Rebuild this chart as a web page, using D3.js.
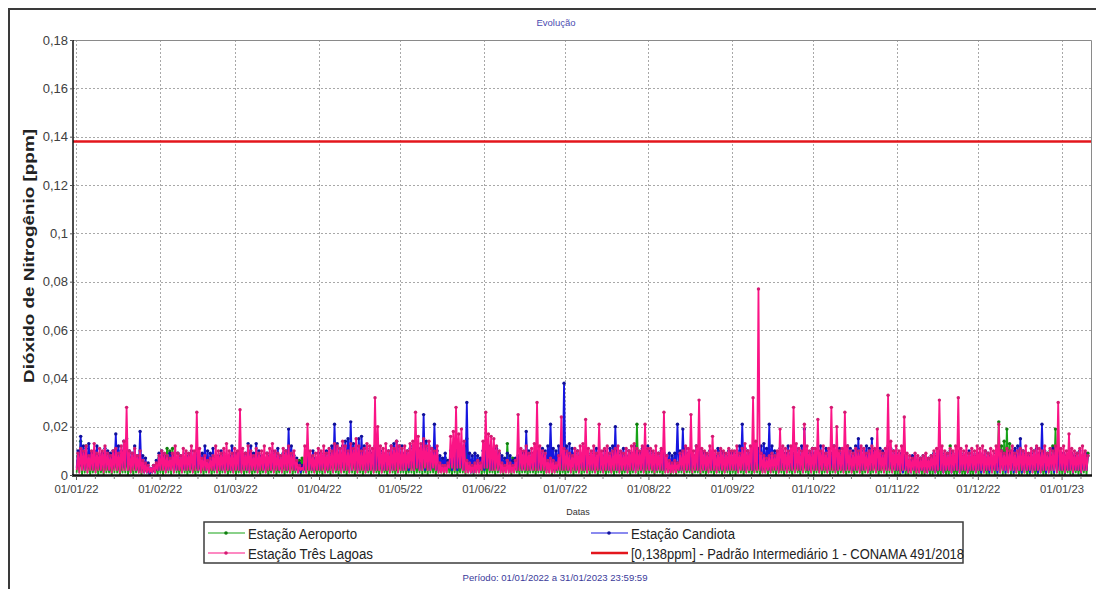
<!DOCTYPE html>
<html>
<head>
<meta charset="utf-8">
<script src="https://cdn.jsdelivr.net/npm/d3@7"></script>
<style>
  body { margin: 0; background: #fff; }
  text { font-family: "Liberation Sans", Arial, sans-serif; }
</style>
</head>
<body>
<svg id="chart" width="1096" height="589"></svg>
<script>
// daily low / high readings, in thousandths of ppm, 01/01/2022 .. 10/01/2023
const pinkHi = [
  9,11,10,12,8,10,13,9,11,10,12,9,8,10,11,9,12,14,28,10,9,11,8,10,6,5,4,3,4,5,8,
  10,9,8,7,9,12,9,8,11,10,9,12,10,26,11,7,8,6,7,8,12,10,9,11,13,10,9,11,
  10,27,11,9,12,10,8,11,9,10,12,9,11,13,10,9,8,11,10,12,9,10,6,4,3,12,21,10,8,9,11,
  10,12,9,11,10,13,12,11,14,12,10,13,11,15,12,10,11,13,12,11,32,20,12,11,13,10,12,11,14,12,
  11,12,10,13,14,26,16,13,15,12,14,11,10,12,5,4,4,5,16,18,28,17,19,14,6,5,4,5,6,5,14,
  26,17,16,15,12,10,5,4,6,5,4,6,25,11,10,12,9,11,13,30,12,10,9,6,7,6,5,8,24,11,
  10,9,8,11,10,12,13,23,11,10,12,9,21,10,11,12,9,10,11,12,10,9,11,10,12,13,11,10,12,21,11,
  11,10,12,9,11,26,8,6,5,6,5,9,10,12,11,25,10,12,31,11,10,9,12,16,10,9,11,10,9,11,10,
  10,12,9,11,13,10,12,32,14,77,9,8,7,8,9,8,10,19,12,11,10,12,28,13,11,10,21,12,10,11,
  11,23,10,12,9,11,28,12,20,10,11,26,12,10,9,11,10,12,11,9,10,12,11,19,10,9,11,33,14,10,12,
  10,12,24,9,8,7,9,8,7,8,9,7,8,10,11,31,12,10,9,11,10,12,32,11,10,12,9,11,10,12,
  11,12,10,9,11,10,12,21,10,9,11,10,12,9,10,11,10,12,9,11,10,12,11,10,12,9,11,10,12,30,11,
  12,10,17,11,10,9,11,12,10,8
];
const pinkLo = [
  2,1,2,2,1,2,2,1,2,2,1,2,2,1,2,2,1,2,2,2,1,2,2,1,1,1,1,1,1,1,2,
  2,2,1,2,2,1,2,2,1,2,2,2,1,2,2,1,2,2,1,2,2,1,2,2,1,2,2,1,
  2,2,1,2,2,1,2,2,1,2,2,1,2,2,1,2,2,1,2,2,1,2,2,1,2,2,1,2,2,1,2,
  2,2,1,2,2,1,2,2,1,2,2,1,2,2,1,2,2,1,2,2,1,2,2,1,2,2,1,2,2,1,
  2,2,2,3,2,2,3,2,2,3,2,2,3,2,1,1,1,1,3,3,2,3,3,2,1,1,1,1,1,1,2,
  3,3,2,2,2,2,1,1,1,1,1,1,2,2,2,2,2,2,2,2,2,2,2,1,1,1,1,2,2,2,
  2,2,1,2,2,1,2,2,1,2,2,1,2,2,1,2,2,1,2,2,1,2,2,1,2,2,1,2,2,1,2,
  2,2,1,2,2,2,1,1,1,1,1,2,2,1,2,2,1,2,2,1,2,2,1,2,2,1,2,2,1,2,2,
  2,2,1,2,2,1,2,2,1,2,2,1,1,2,1,2,2,1,2,2,1,2,2,1,2,2,1,2,2,1,
  2,2,1,2,2,1,2,2,1,2,2,1,2,2,1,2,2,1,2,2,1,2,2,1,2,2,1,2,2,1,2,
  2,1,2,2,1,1,2,1,1,2,1,1,2,2,1,2,2,1,2,2,1,2,2,1,2,2,1,2,2,1,
  2,2,1,2,2,1,2,2,1,2,2,1,2,2,1,2,2,1,2,2,1,2,2,1,2,2,1,2,2,1,2,
  2,1,2,2,1,2,2,1,2,2
];
const blueHi = [
  10,16,12,11,13,9,10,12,8,9,11,10,9,10,17,12,10,14,15,10,9,12,8,18,8,7,5,3,4,6,9,
  10,8,7,9,8,7,9,8,6,9,8,10,7,9,8,9,12,10,9,11,7,8,10,9,7,8,12,9,
  9,10,8,9,13,12,9,13,10,8,7,9,8,10,9,11,8,9,10,19,12,8,7,5,4,6,9,8,10,7,9,
  9,8,10,9,12,21,13,11,12,14,15,22,13,12,15,16,12,11,10,9,12,11,10,9,8,10,12,13,14,12,
  12,9,10,11,12,13,11,10,25,14,12,11,21,10,8,7,9,6,10,12,11,10,9,12,30,9,8,9,8,7,10,
  10,12,9,8,11,9,8,7,9,8,6,7,8,10,9,18,10,9,8,10,9,11,10,12,21,11,10,12,11,38,
  12,13,11,9,10,8,9,10,8,9,10,11,9,8,10,9,11,12,20,10,9,11,8,10,9,12,10,9,11,10,12,
  10,9,8,9,10,9,8,9,8,9,21,10,19,11,9,10,8,12,11,10,9,8,10,9,8,11,10,9,8,10,9,
  9,10,12,21,11,10,9,12,10,11,12,13,11,21,12,10,9,11,10,9,12,10,9,11,10,12,19,10,9,11,
  9,10,12,9,11,10,9,12,10,11,9,10,12,11,10,12,15,11,10,12,11,15,10,9,11,10,9,12,11,10,9,
  8,9,8,7,6,8,7,6,7,8,6,7,8,9,8,10,9,8,9,10,9,8,10,9,8,9,10,9,8,9,
  9,8,10,9,8,7,9,8,10,9,8,9,10,11,12,15,10,9,8,9,10,11,9,21,10,9,8,11,10,9,8,
  9,8,10,9,8,9,10,8,9,8
];
const blueLo = [
  3,4,3,2,3,3,2,3,3,2,3,3,2,3,3,3,2,3,3,2,3,3,2,2,2,1,1,0,1,1,2,
  2,3,2,2,3,2,2,3,2,2,3,2,2,3,2,2,3,2,2,3,2,2,3,2,2,3,2,2,
  3,2,2,3,2,2,3,2,2,3,2,2,3,2,2,3,2,2,3,2,2,3,2,1,1,2,2,3,2,2,3,
  2,3,2,2,3,2,2,3,2,2,3,2,2,3,2,2,3,2,2,3,2,2,3,2,2,3,2,2,3,2,
  3,2,3,2,3,2,3,2,3,2,3,2,3,2,2,2,3,2,3,2,3,2,3,2,2,2,1,1,2,2,3,
  2,3,2,2,3,2,2,3,2,2,3,2,2,3,2,2,3,2,2,3,2,2,3,2,2,3,2,2,3,2,
  3,2,2,3,2,2,3,2,2,3,2,2,3,2,2,3,2,2,3,2,2,3,2,2,3,2,2,3,2,2,3,
  2,3,2,2,3,2,2,3,2,2,3,2,2,3,2,2,3,2,2,3,2,2,3,2,2,3,2,2,3,2,2,
  3,2,2,3,2,2,3,2,2,3,2,2,3,2,2,3,2,2,3,2,2,3,2,2,3,2,2,3,2,2,
  2,3,2,2,3,2,2,3,2,2,3,2,2,3,2,2,3,2,2,3,2,2,3,2,2,3,2,2,3,2,2,
  2,2,1,2,2,1,2,2,1,2,2,1,2,2,1,2,2,1,2,2,1,2,2,1,2,2,1,2,2,1,
  2,1,2,2,1,2,2,1,2,2,1,2,2,1,2,2,1,2,2,1,2,2,1,2,2,1,2,2,1,2,2,
  2,1,2,2,1,2,2,1,2,2
];
const greenHi = [
  8,14,9,12,7,6,5,7,6,5,6,5,4,7,9,6,5,8,10,6,5,7,5,6,5,4,3,2,3,4,7,
  6,7,11,10,11,9,6,5,6,7,5,6,5,7,6,5,6,7,5,6,7,5,6,8,6,5,7,6,
  6,5,7,6,8,6,5,7,6,5,7,6,5,6,7,5,6,7,6,5,7,6,5,6,7,5,6,7,6,5,6,
  6,7,5,6,8,7,6,9,8,6,7,12,8,7,9,6,7,8,6,7,6,5,7,6,5,6,7,6,5,6,
  6,7,5,6,8,7,6,11,8,6,11,7,6,7,5,6,7,6,5,7,6,5,7,6,15,6,5,7,6,6,6,
  6,7,5,6,8,7,6,5,13,6,7,6,5,7,6,5,6,7,5,6,7,5,6,7,11,6,5,7,6,5,
  6,5,7,6,5,7,6,5,6,7,5,6,7,6,5,6,7,5,6,7,6,5,7,6,5,9,21,7,6,5,7,
  6,5,7,6,5,7,6,5,6,7,5,6,7,6,5,6,7,5,6,7,6,5,7,6,5,6,7,5,6,7,6,
  6,5,7,6,5,7,6,5,6,7,5,6,7,6,5,6,7,5,6,7,6,5,7,6,5,6,7,5,6,7,
  6,5,7,6,5,7,6,5,6,7,5,6,7,6,5,6,7,5,6,7,6,5,7,6,5,6,7,10,6,7,6,
  6,5,7,6,5,7,6,5,6,7,5,6,7,6,5,6,7,5,6,12,6,5,7,6,5,6,7,5,6,7,
  6,7,5,6,8,7,9,22,12,14,19,13,10,8,7,6,7,8,6,7,6,5,7,6,5,8,10,12,19,11,7,
  7,6,7,8,6,7,6,7,8,9
];
const greenLo = [
  1,1,0,1,1,0,1,1,0,1,0,1,1,0,1,1,0,1,1,0,1,0,1,1,0,1,1,0,1,1,0,
  1,0,1,1,0,1,1,0,1,1,0,1,1,0,1,1,0,1,1,0,1,1,0,1,1,0,1,1,
  0,1,1,0,1,1,0,1,1,0,1,1,0,1,1,0,1,1,0,1,1,0,1,1,0,1,1,0,1,1,0,
  1,0,1,1,0,1,1,0,1,1,0,1,1,0,1,1,0,1,1,0,1,1,0,1,1,0,1,1,0,1,
  1,1,0,1,1,0,1,1,0,1,0,1,1,0,1,1,0,1,1,0,1,0,1,1,0,1,1,0,1,1,0,
  1,0,1,1,0,1,1,0,1,1,0,1,1,0,1,1,0,1,1,0,1,1,0,1,1,0,1,1,0,1,
  0,1,1,0,1,1,0,1,1,0,1,1,0,1,1,0,1,1,0,1,1,0,1,1,0,1,1,0,1,1,0,
  1,1,0,1,1,0,1,1,0,1,0,1,1,0,1,1,0,1,1,0,1,0,1,1,0,1,1,0,1,1,0,
  1,0,1,1,0,1,1,0,1,1,0,1,1,0,1,1,0,1,1,0,1,1,0,1,1,0,1,1,0,1,
  0,1,1,0,1,1,0,1,1,0,1,1,0,1,1,0,1,1,0,1,1,0,1,1,0,1,1,0,1,1,0,
  0,0,1,0,0,1,0,0,1,0,0,1,0,0,1,0,0,1,0,0,1,0,0,1,0,0,1,0,0,1,
  0,0,1,0,0,1,0,0,1,0,0,1,0,0,1,0,0,1,0,0,1,0,0,1,0,0,1,0,0,1,0,
  0,0,1,0,0,1,0,0,1,0
];
const limitValue = 0.138;
const yTicks = [0, 0.02, 0.04, 0.06, 0.08, 0.1, 0.12, 0.14, 0.16, 0.18];
const monthTicks = ["2022-01-01","2022-02-01","2022-03-01","2022-04-01","2022-05-01","2022-06-01",
  "2022-07-01","2022-08-01","2022-09-01","2022-10-01","2022-11-01","2022-12-01","2023-01-01"];
const seriesNames = ["Estação Aeroporto", "Estação Candiota", "Estação Três Lagoas"];
const limitName = "[0,138ppm] - Padrão Intermediário 1 - CONAMA 491/2018";

const startMs = Date.UTC(2022, 0, 1);
const dayMs = 86400000;

const svg = d3.select("#chart");

// outer frame (top and left edges visible)
svg.append("path").attr("d", "M9,589V9H1096")
  .attr("fill", "none").attr("stroke", "#3a3a3a").attr("stroke-width", 2);

const plotL = 73, plotR = 1091, plotT = 40, plotB = 475;

const x = d3.scaleUtc()
  .domain([new Date(startMs - 1.1 * dayMs), new Date(startMs + 375.9 * dayMs)])
  .range([plotL, plotR]);
const y = d3.scaleLinear().domain([0, 0.18]).range([plotB, plotT]);

svg.append("text").attr("x", 556).attr("y", 26).attr("text-anchor", "middle")
  .attr("font-size", 9.5).attr("fill", "#4b4bb0").text("Evolução");

// grid
const grid = svg.append("g").attr("stroke", "#a8a8a8").attr("stroke-dasharray", "2,2").attr("stroke-width", 1);
yTicks.slice(1).forEach(v => {
  grid.append("line").attr("x1", plotL).attr("x2", plotR).attr("y1", Math.round(y(v)) + 0.5).attr("y2", Math.round(y(v)) + 0.5);
});
monthTicks.forEach(s => {
  const px = Math.round(x(new Date(s + "T00:00:00Z"))) + 0.5;
  grid.append("line").attr("x1", px).attr("x2", px).attr("y1", plotT).attr("y2", plotB);
});

// plot border
svg.append("path").attr("d", `M${plotL},${plotT + 0.5}H${plotR + 0.5}V${plotB}`)
  .attr("fill", "none").attr("stroke", "#8a8a8a").attr("stroke-width", 1);

// series
svg.append("clipPath").attr("id", "clip").append("rect")
  .attr("x", plotL).attr("y", plotT - 4).attr("width", plotR - plotL).attr("height", plotB - plotT + 4);

function points(lo, hi) {
  const pts = [];
  hi.forEach((h, i) => {
    pts.push({ t: new Date(startMs + (i + 0.25) * dayMs), v: lo[i] / 1000 });
    pts.push({ t: new Date(startMs + (i + 0.75) * dayMs), v: h / 1000 });
  });
  return pts;
}

const series = [
  { name: seriesNames[0], color: "#17a317", dot: "#0f7f0f", pts: points(greenLo, greenHi) },
  { name: seriesNames[1], color: "#1616e0", dot: "#10109a", pts: points(blueLo, blueHi) },
  { name: seriesNames[2], color: "#fb1486", dot: "#d41a72", pts: points(pinkLo, pinkHi) }
];

const line = d3.line().x(d => x(d.t)).y(d => y(d.v));
const plot = svg.append("g").attr("clip-path", "url(#clip)");
series.forEach(s => {
  plot.append("path").datum(s.pts).attr("d", line)
    .attr("fill", "none").attr("stroke", s.color).attr("stroke-width", 1.8)
    .attr("stroke-linejoin", "round");
  plot.append("g").selectAll("circle").data(s.pts.filter(d => d.v > 0.003)).join("circle")
    .attr("cx", d => x(d.t)).attr("cy", d => y(d.v)).attr("r", 1.7)
    .attr("fill", s.dot);
});

// limit line
svg.append("line").attr("x1", plotL).attr("x2", plotR)
  .attr("y1", y(limitValue)).attr("y2", y(limitValue))
  .attr("stroke", "#e3161d").attr("stroke-width", 2.5);

// axes
svg.append("line").attr("x1", plotL).attr("x2", plotL).attr("y1", plotT).attr("y2", plotB + 1)
  .attr("stroke", "#111").attr("stroke-width", 1.5);
svg.append("line").attr("x1", plotL - 1).attr("x2", plotR + 1).attr("y1", plotB + 0.5).attr("y2", plotB + 0.5)
  .attr("stroke", "#111").attr("stroke-width", 2.5);

const fmtY = v => String(+v.toFixed(2)).replace(".", ",");
const yAxis = svg.append("g").attr("transform", `translate(${plotL},0)`)
  .call(d3.axisLeft(y).tickValues(yTicks).tickSize(3).tickFormat(fmtY));
yAxis.select(".domain").remove();
yAxis.selectAll("text").attr("font-size", 13).attr("fill", "#404040").attr("x", -5)
  .style("font-family", "'Liberation Sans', Arial, sans-serif");
yAxis.selectAll("line").attr("stroke", "#555");

const weekTicks = [];
monthTicks.forEach(s => {
  const d = new Date(s + "T00:00:00Z");
  [8, 15, 22, 29].forEach(dd => {
    const w = new Date(Date.UTC(d.getUTCFullYear(), d.getUTCMonth(), dd));
    if (w < x.domain()[1] && w.getUTCMonth() === d.getUTCMonth()) weekTicks.push(w);
  });
});
svg.append("g").attr("transform", `translate(0,${plotB + 1})`)
  .call(d3.axisBottom(x).tickValues(weekTicks).tickSize(3).tickFormat(""))
  .call(g => g.select(".domain").remove())
  .selectAll("line").attr("stroke", "#777");

const fmtX = d3.utcFormat("%d/%m/%y");
const xAxis = svg.append("g").attr("transform", `translate(0,${plotB + 1})`)
  .call(d3.axisBottom(x).tickValues(monthTicks.map(s => new Date(s + "T00:00:00Z"))).tickSize(4).tickFormat(fmtX));
xAxis.select(".domain").remove();
xAxis.selectAll("line").attr("stroke", "#555");
xAxis.selectAll("text").attr("font-size", 11.5).attr("fill", "#404040").attr("y", 9)
  .attr("textLength", 44).attr("lengthAdjust", "spacingAndGlyphs")
  .style("font-family", "'Liberation Sans', Arial, sans-serif");

svg.append("text").attr("x", 578).attr("y", 515).attr("text-anchor", "middle")
  .attr("font-size", 9).attr("fill", "#333").text("Datas");

svg.append("text").attr("transform", "translate(34,256) rotate(-90)").attr("text-anchor", "middle")
  .attr("font-size", 15).attr("font-weight", "bold").attr("fill", "#222")
  .attr("textLength", 254).attr("lengthAdjust", "spacingAndGlyphs")
  .text("Dióxido de Nitrogênio [ppm]");

// legend
const lg = svg.append("g");
lg.append("rect").attr("x", 204).attr("y", 522).attr("width", 759).attr("height", 41)
  .attr("fill", "#fff").attr("stroke", "#3c3c3c").attr("stroke-width", 1.5);
const legendItems = [
  { label: seriesNames[0], color: series[0].color, dot: series[0].dot, x: 208, y: 533, w: 109 },
  { label: seriesNames[2], color: series[2].color, dot: series[2].dot, x: 208, y: 553, w: 125 },
  { label: seriesNames[1], color: series[1].color, dot: series[1].dot, x: 591, y: 533, w: 104 },
  { label: limitName, color: "#e3161d", dot: null, x: 591, y: 553, w: 333 }
];
legendItems.forEach(it => {
  lg.append("line").attr("x1", it.x).attr("x2", it.x + 37).attr("y1", it.y).attr("y2", it.y)
    .attr("stroke", it.color).attr("stroke-width", it.dot ? 1.2 : 2.5);
  if (it.dot) lg.append("circle").attr("cx", it.x + 18).attr("cy", it.y).attr("r", 1.8).attr("fill", it.dot);
  lg.append("text").attr("x", it.x + 40).attr("y", it.y + 5.5).attr("font-size", 15.5).attr("fill", "#222")
    .attr("textLength", it.w).attr("lengthAdjust", "spacingAndGlyphs").text(it.label);
});

svg.append("text").attr("x", 555).attr("y", 581).attr("text-anchor", "middle")
  .attr("font-size", 9).attr("fill", "#3a3a9a")
  .attr("textLength", 185).attr("lengthAdjust", "spacingAndGlyphs")
  .text("Período: 01/01/2022 a 31/01/2023 23:59:59");
</script>
</body>
</html>
